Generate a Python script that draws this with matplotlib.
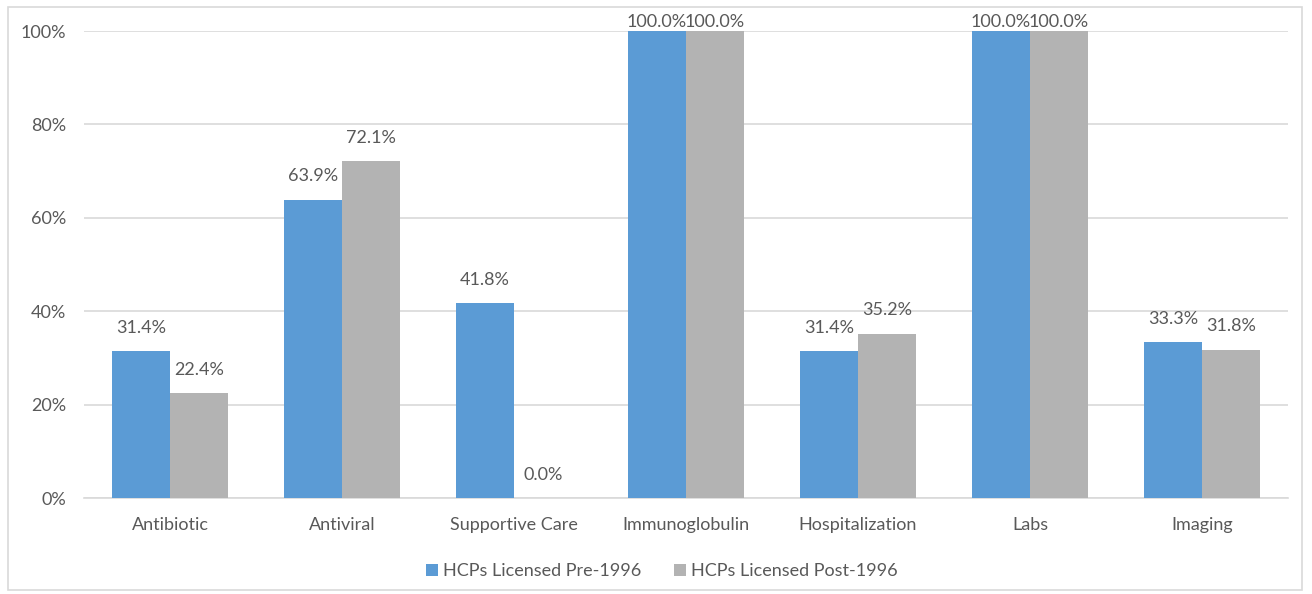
import numpy as np
import matplotlib.pyplot as plt
from matplotlib.patches import Rectangle

categories = ["Antibiotic", "Antiviral", "Supportive Care", "Immunoglobulin",
              "Hospitalization", "Labs", "Imaging"]
pre_1996 = [0.314, 0.639, 0.418, 1.000, 0.314, 1.000, 0.333]
post_1996 = [0.224, 0.721, 0.000, 1.000, 0.352, 1.000, 0.318]
series_names = ["HCPs Licensed Pre-1996", "HCPs Licensed Post-1996"]
y_ticks = [0, 0.2, 0.4, 0.6, 0.8, 1.0]

plt.rcParams['font.family'] = ['Lato', 'DejaVu Sans']
text_color = "#595959"
grid_color = "#D9D9D9"
colors = ["#5B9BD5", "#B3B3B3"]
fs = 13

fig = plt.figure(figsize=(13.12, 5.94), dpi=100)
ax = fig.add_axes([0.064, 0.1616, 0.9177, 0.7862])

# chart frame
fig.patches.append(Rectangle((0.006, 0.006), 0.986, 0.982, transform=fig.transFigure,
                             fill=False, edgecolor=grid_color, linewidth=1.2))

x = np.arange(len(categories))
width = 0.337
for i, (vals, name) in enumerate(zip([pre_1996, post_1996], series_names)):
    offs = (i - 0.5) * width
    bars = ax.bar(x + offs, vals, width, color=colors[i], label=name, zorder=3)
    for b, v in zip(bars, vals):
        pad = 1 if v >= 1 else 11
        ax.annotate(f"{v * 100:.1f}%", (b.get_x() + b.get_width() / 2, v),
                    xytext=(0, pad), textcoords="offset points",
                    ha="center", va="bottom", fontsize=fs, color=text_color,
                    annotation_clip=False)

ax.set_xlim(-0.5, len(categories) - 0.5)
ax.set_ylim(0, 1)
ax.set_yticks(y_ticks)
ax.set_yticklabels([f"{int(t * 100)}%" for t in y_ticks])
ax.set_xticks(x)
ax.set_xticklabels(categories)
ax.tick_params(length=0, labelsize=fs, colors=text_color)
ax.tick_params(axis="y", pad=13)
ax.tick_params(axis="x", pad=14)
ax.grid(axis="y", color=grid_color, linewidth=1.2, zorder=0)
for s in ["top", "right", "left"]:
    ax.spines[s].set_visible(False)
ax.spines["bottom"].set_color(grid_color)
ax.spines["bottom"].set_linewidth(1.2)

ax.legend(loc="upper center", bbox_to_anchor=(0.48, -0.105), ncol=2, frameon=False,
          fontsize=fs, labelcolor=text_color, handlelength=0.65, handleheight=0.65,
          handletextpad=0.3, columnspacing=1.8)

fig.savefig("out.png", dpi=100)
